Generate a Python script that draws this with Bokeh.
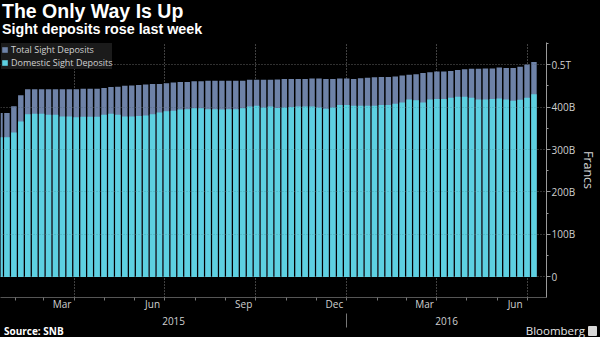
import pandas as pd
from bokeh.plotting import figure
from bokeh.layouts import column
from bokeh.models import (ColumnDataSource, Range1d, LinearAxis, FixedTicker, Grid,
                          Legend, LegendItem, Div)
from bokeh.embed import file_html
from bokeh.resources import INLINE

# ---------------- data (billions of francs, weekly) ----------------
dates = pd.date_range("2015-01-16", periods=78, freq="7D")
total_sight = [386, 386, 402, 428, 442, 442, 442, 442, 442, 442, 442, 442, 443, 443, 443, 445, 447, 448, 450, 451,
               452, 453, 454, 454, 456, 458, 459, 459, 461, 461, 462, 462, 462, 462, 462, 462, 464, 464, 464, 464,
               465, 466, 466, 466, 466, 467, 467, 466, 466, 467, 467, 466, 468, 469, 470, 471, 471, 472, 474, 476,
               477, 480, 482, 484, 484, 485, 487, 489, 490, 490, 491, 491, 493, 492, 492, 495, 500, 506]
domestic_sight = [329, 329, 340, 366, 383, 384, 384, 382, 382, 378, 378, 376, 377, 377, 377, 382, 384, 382, 378, 378,
                  379, 380, 383, 387, 390, 391, 394, 395, 397, 397, 395, 395, 394, 395, 395, 397, 401, 403, 399, 401,
                  398, 399, 400, 401, 401, 401, 399, 396, 399, 405, 405, 403, 403, 403, 403, 405, 405, 408, 411, 418,
                  416, 411, 418, 419, 419, 422, 424, 424, 422, 418, 418, 419, 420, 418, 415, 417, 422, 430]
series_names = ["Total Sight Deposits", "Domestic Sight Deposits"]
y_ticks = [0, 100, 200, 300, 400, 500]
y_tick_labels = ["0", "100B", "200B", "300B", "400B", "0.5T"]
month_labels = ["2015-03", "2015-06", "2015-09", "2015-12", "2016-03", "2016-06"]
month_names = ["Mar", "Jun", "Sep", "Dec", "Mar", "Jun"]
grid_dates = ["2015-04-01", "2015-07-01", "2015-10-01", "2016-01-01", "2016-04-01", "2016-07-01"]
years = ["2015", "2016"]
title = "The Only Way Is Up"
subtitle = "Sight deposits rose last week"
source = "Source: SNB"
brand = "Bloomberg"

# ---------------- helpers ----------------
DAY = 86400000.0
def ms(t):
    return pd.Timestamp(t).value / 1e6

px_per_day = 6.96 / 7.0
frame_w = 548
x_start = ms(dates[0]) + (0.5 / px_per_day) * DAY
x_end = x_start + (frame_w / px_per_day) * DAY

FONT = "Open Sans"
HFONT = "Liberation Sans"
TXT = "#d0d0d0"
GRID = "#6a6a6a"

# ---------------- header ----------------
header = Div(width=600, height=42, margin=0, styles={"background-color": "black", "overflow": "visible"},
             text=(f'<div style="position:relative;width:600px;height:42px;font-family:\'{HFONT}\';'
                   f'font-weight:bold;color:white;">'
                   f'<span style="position:absolute;left:2px;top:1.7px;font-size:19.5px;line-height:19.5px;'
                   f'white-space:nowrap;">{title}</span>'
                   f'<span style="position:absolute;left:2px;top:22.2px;font-size:14.3px;line-height:14.3px;'
                   f'white-space:nowrap;">{subtitle}</span></div>'))

# ---------------- main chart ----------------
src = ColumnDataSource(dict(x=[ms(d) for d in dates], total=total_sight, dom=domestic_sight))

p = figure(width=600, height=286, output_backend="svg", toolbar_location=None,
           x_axis_location=None, y_axis_location=None,
           x_range=Range1d(x_start, x_end), y_range=Range1d(-48.5, 552),
           min_border_left=0, min_border_right=52, min_border_top=0, min_border_bottom=31)
p.background_fill_color = "black"
p.border_fill_color = "black"
p.outline_line_color = None
p.center = []

hgrid = Grid(dimension=1, ticker=FixedTicker(ticks=y_ticks), grid_line_color=GRID,
             grid_line_dash="1 2", grid_line_width=1)
vgrid = Grid(dimension=0, ticker=FixedTicker(ticks=[ms(d) for d in grid_dates]),
             grid_line_color="#808080", grid_line_dash="1 2", grid_line_width=1)
p.add_layout(hgrid)
p.add_layout(vgrid)

bw = 5.5 * DAY
r_total = p.vbar(x="x", top="total", bottom=0, width=bw, source=src,
                 fill_color="#6e82a7", line_color=None)
r_dom = p.vbar(x="x", top="dom", bottom=0, width=bw, source=src,
               fill_color="#5dd0e1", line_color=None)

hgrid2 = Grid(dimension=1, ticker=FixedTicker(ticks=y_ticks[1:]), grid_line_color="black",
              grid_line_alpha=0.18, grid_line_dash="1 2", level="annotation")
p.add_layout(hgrid2)

yaxis = LinearAxis(ticker=FixedTicker(ticks=y_ticks, minor_ticks=list(range(-50, 600, 50))),
                   major_label_overrides={t: l for t, l in zip(y_ticks, y_tick_labels)},
                   axis_label="Francs", axis_label_text_font=FONT, axis_label_text_font_size="12.5px",
                   axis_label_text_color=TXT, axis_label_text_font_style="normal",
                   axis_label_standoff=2,
                   major_label_text_font=FONT, major_label_text_font_size="10px",
                   major_label_text_color=TXT, major_label_standoff=1,
                   axis_line_color="#9a9a9a", major_tick_line_color="#9a9a9a",
                   minor_tick_line_color="#9a9a9a",
                   major_tick_out=4, major_tick_in=0, minor_tick_out=2, minor_tick_in=0)
p.add_layout(yaxis, "right")

def month_pos(m):
    a = pd.Timestamp(m + "-01")
    b = a + pd.offsets.MonthBegin(1)
    return ms(a) + 0.6 * (ms(b) - ms(a))

mids = [month_pos(m) for m in month_labels]
starts = [ms(d) for d in pd.date_range("2015-02-01", "2016-07-01", freq="MS")]
xaxis = LinearAxis(ticker=FixedTicker(ticks=mids, minor_ticks=starts),
                   major_label_overrides={t: n for t, n in zip(mids, month_names)},
                   major_label_text_font=FONT, major_label_text_font_size="10px",
                   major_label_text_color=TXT, major_label_standoff=-4,
                   axis_line_color="#555555", major_tick_out=0, major_tick_in=0,
                   minor_tick_out=3, minor_tick_in=0, minor_tick_line_color="#777777")
p.add_layout(xaxis, "below")

y16 = ms("2016-01-01")
year_pos = [(x_start + y16) / 2, (y16 + x_end) / 2]
yraxis = LinearAxis(ticker=FixedTicker(ticks=year_pos, minor_ticks=[y16]),
                    major_label_overrides={t: n for t, n in zip(year_pos, years)},
                    major_label_text_font=FONT, major_label_text_font_size="10px",
                    major_label_text_color=TXT, major_label_standoff=-11,
                    axis_line_color=None, major_tick_out=0, major_tick_in=0,
                    minor_tick_out=14, minor_tick_in=0, minor_tick_line_color="#777777")
p.add_layout(yraxis, "below")

legend = Legend(items=[LegendItem(label=series_names[0], renderers=[r_total]),
                       LegendItem(label=series_names[1], renderers=[r_dom])],
                location="top_left", label_text_font=FONT, label_text_font_size="9px",
                label_text_color=TXT, background_fill_color="#1b1b1b", background_fill_alpha=1,
                border_line_color=None, glyph_width=7, glyph_height=7, label_height=9,
                label_standoff=3, spacing=0, padding=3, margin=1)
p.add_layout(legend)

# ---------------- footer ----------------
footer = Div(width=600, height=9, margin=0, styles={"background-color": "black", "overflow": "visible"},
             text=(f'<div style="position:relative;width:600px;height:9px;font-family:\'{FONT}\';">'
                   f'<span style="position:absolute;left:4px;top:-5px;font-size:10px;line-height:10px;'
                   f'font-weight:bold;color:white;white-space:nowrap;">{source}</span>'
                   f'<span style="position:absolute;right:15px;top:-6px;font-size:11.5px;line-height:11.5px;'
                   f'color:#e6e6e6;white-space:nowrap;">{brand}</span>'
                   f'<span style="position:absolute;left:588px;top:-5px;width:9px;height:10px;'
                   f'background:#d8d8d8;border-radius:1px;"></span></div>'))

layout = column(header, p, footer, spacing=0, styles={"background-color": "black"})
open("out.html", "w").write(file_html(layout, INLINE))
